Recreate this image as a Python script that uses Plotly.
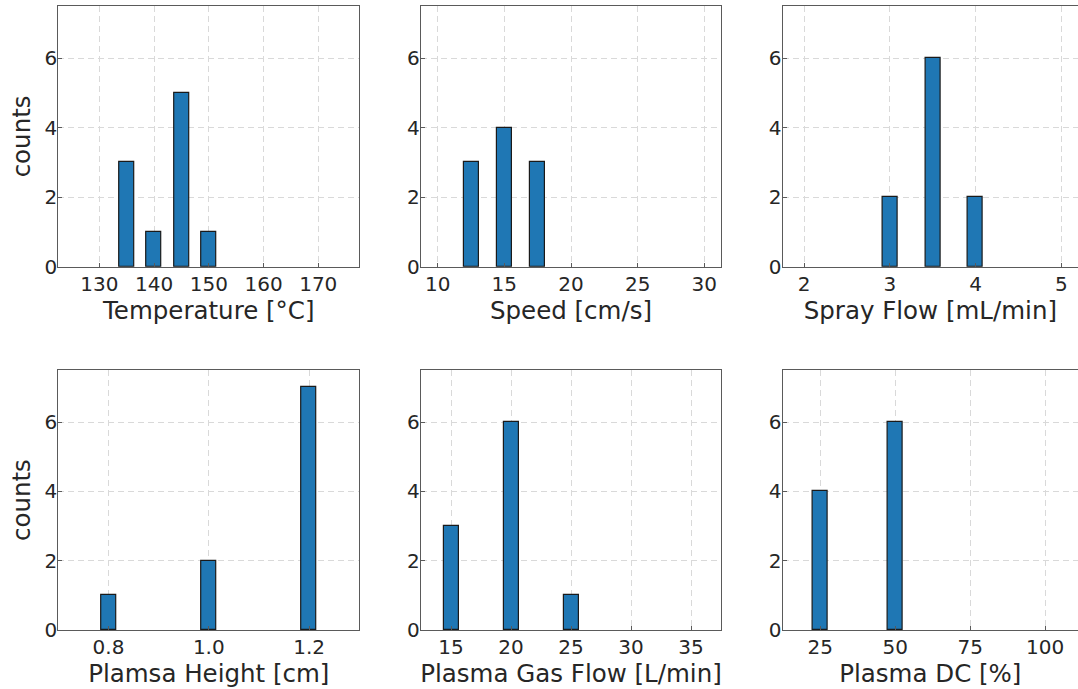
import plotly.graph_objects as go

# ---------------- data ----------------
temp_vals = [135, 140, 145, 150]
temp_counts = [3, 1, 5, 1]
temp_ticks = [130, 140, 150, 160, 170]

speed_vals = [12.5, 15, 17.5]
speed_counts = [3, 4, 3]
speed_ticks = [10, 15, 20, 25, 30]

spray_vals = [3.0, 3.5, 4.0]
spray_counts = [2, 6, 2]
spray_ticks = [2, 3, 4, 5]

height_vals = [0.8, 1.0, 1.2]
height_counts = [1, 2, 7]
height_ticks = [0.8, 1.0, 1.2]
height_ticktext = ["0.8", "1.0", "1.2"]

gas_vals = [15, 20, 25]
gas_counts = [3, 6, 1]
gas_ticks = [15, 20, 25, 30, 35]

dc_vals = [25, 50]
dc_counts = [4, 6]
dc_ticks = [25, 50, 75, 100]

count_ticks = [0, 2, 4, 6]

x_titles = ["Temperature [°C]", "Speed [cm/s]", "Spray Flow [mL/min]",
            "Plamsa Height [cm]", "Plasma Gas Flow [L/min]", "Plasma DC [%]"]
y_title = "counts"

# ---------------- layout geometry ----------------
W, H = 1078, 689
col_px = [(58.3, 359.3), (421.0, 721.0), (782.7, 1078.0)]
row_px = [(6.0, 266.7), (370.0, 630.0)]
x_ranges = [(122.5, 177.5), (8.75, 31.25), (1.75, 5.195),
            (0.7, 1.3), (12.5, 37.5), (12.5, 110.93)]
bar_widths = [2.75, 1.125, 0.175, 0.03, 1.25, 5.0]

panels = [
    (temp_vals, temp_counts, temp_ticks, None),
    (speed_vals, speed_counts, speed_ticks, None),
    (spray_vals, spray_counts, spray_ticks, None),
    (height_vals, height_counts, height_ticks, height_ticktext),
    (gas_vals, gas_counts, gas_ticks, None),
    (dc_vals, dc_counts, dc_ticks, None),
]

FONT = "DejaVu Sans"
FRAME = "#5a5a5a"
GRID = "#d9d9d9"
TXT = "#262626"
TICK_FS = 20
TITLE_FS = 24.5

fig = go.Figure()
layout = dict(
    width=W, height=H,
    margin=dict(l=0, r=0, t=0, b=0, autoexpand=False),
    paper_bgcolor="white", plot_bgcolor="white",
    showlegend=False,
    font=dict(family=FONT, color=TXT),
    bargap=0,
)

annotations = []
for i, (vals, counts, ticks, ttext) in enumerate(panels):
    r, c = divmod(i, 3)
    n = "" if i == 0 else str(i + 1)
    xa, ya = "x" + n, "y" + n
    fig.add_trace(go.Bar(
        x=vals, y=counts, width=bar_widths[i],
        marker=dict(color="#1f77b4", line=dict(color="#1a1a1a", width=1.2)),
        xaxis=xa, yaxis=ya, hoverinfo="x+y",
    ))
    x0, x1 = col_px[c]
    y0, y1 = row_px[r]
    xdict = dict(
        domain=[x0 / W, x1 / W], anchor=ya,
        range=list(x_ranges[i]), automargin=False,
        tickmode="array", tickvals=ticks,
        ticks="inside", ticklen=4, tickwidth=1, tickcolor=FRAME,
        tickfont=dict(size=TICK_FS, family=FONT, color=TXT),
        showline=True, linecolor=FRAME, linewidth=1.3, mirror=True,
        showgrid=True, gridcolor=GRID, griddash="6px,4px", gridwidth=1,
        zeroline=False,
        title=dict(text=x_titles[i], font=dict(size=TITLE_FS, family=FONT, color=TXT), standoff=2),
        ticklabelstandoff=-1,
        layer="above traces",
    )
    if ttext is not None:
        xdict["ticktext"] = ttext
    ydict = dict(
        domain=[1 - y1 / H, 1 - y0 / H], anchor=xa,
        range=[0, 7.5], automargin=False,
        tickmode="array", tickvals=count_ticks,
        ticks="inside", ticklen=4, tickwidth=1, tickcolor=FRAME,
        tickfont=dict(size=TICK_FS, family=FONT, color=TXT),
        showline=True, linecolor=FRAME, linewidth=1.3, mirror=(c != 2),
        showgrid=True, gridcolor=GRID, griddash="6px,4px", gridwidth=1,
        zeroline=False,
        ticklabelstandoff=-4,
        layer="above traces",
    )
    if c == 0:
        annotations.append(dict(
            text=y_title, textangle=-90, showarrow=False,
            xref="paper", yref="paper",
            x=21 / W, xanchor="center",
            y=1 - (y0 + y1) / 2 / H, yanchor="middle",
            font=dict(size=TITLE_FS, family=FONT, color=TXT),
        ))
    layout["xaxis" + n] = xdict
    layout["yaxis" + n] = ydict

layout["annotations"] = annotations
fig.update_layout(**layout)
fig.write_html("out.html")
